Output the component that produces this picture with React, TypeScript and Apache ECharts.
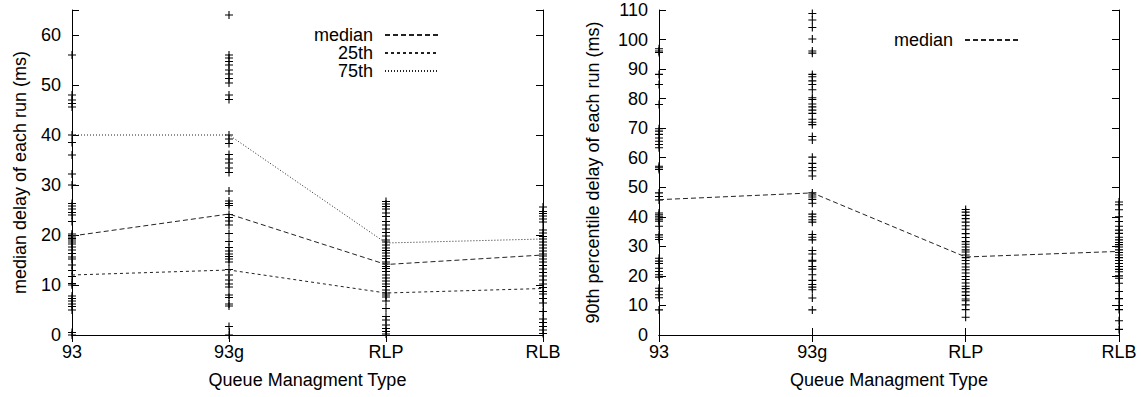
import React, { useEffect, useRef } from "react";
import * as echarts from "echarts";

const categories = ["93", "93g", "RLP", "RLB"];

// left panel: percentile lines
const leftMedian = [19.8, 24.2, 14.1, 16.0];
const left25th = [12.0, 13.0, 8.4, 9.3];
const left75th = [40, 40, 18.4, 19.2];

// left panel: median delay of each run
const leftRuns93 = [56, 48, 47, 46.3, 45.6, 40, 38.5, 36, 32.2, 30, 26.3, 25.8, 25.2, 24.5, 24, 22.7, 20.2, 19.9, 19.6, 19.3, 19, 18.6, 18.2, 17.6, 17, 16.3, 15.6, 15.2, 14, 12.9, 11.7, 10.3, 10, 7.8, 7.3, 6.8, 6.2, 5.7, 5, 0.5, 0];
const leftRuns93g = [64, 56, 55.4, 54.7, 54, 53, 52.2, 51.3, 50.4, 48, 47.1, 40, 39.2, 38.3, 36.1, 35.2, 34.4, 33.4, 32.5, 28.8, 26.8, 26.3, 25.9, 24.1, 23.5, 22.8, 22, 20.3, 18.7, 17.5, 16.8, 16.2, 15.7, 15.2, 14.6, 13.1, 12, 11, 10.2, 9.6, 8, 7.5, 6.2, 5.8, 1.7, 0];
const leftRunsRLP = [26.7, 26.2, 25.7, 25.2, 24.4, 23.7, 22.7, 22, 21.2, 20.5, 19.8, 19, 18.6, 18, 17.4, 16.9, 16.4, 15.8, 15.3, 14.6, 14.2, 13.7, 13.3, 12.7, 12, 11.4, 10.8, 10.2, 9.7, 9, 8.4, 8, 7.6, 6.8, 5.3, 3.7, 3, 2, 1.3, 0.7, 0.2];
const leftRunsRLB = [25.6, 24.7, 24.3, 23.8, 23.2, 22.6, 21, 20.4, 19.7, 19.2, 18.6, 18, 17.4, 16.8, 16.2, 15.8, 15.2, 14.6, 13.9, 13.2, 12.5, 11.8, 11, 10.2, 9.5, 8.7, 8.2, 7.3, 6.4, 4.7, 3.2, 2.5, 1.7, 1, 0.3];

// right panel
const rightMedian = [45.8, 48.1, 26.4, 28.3];
const rightRuns93 = [96.9, 96.1, 95.6, 88.2, 84.8, 78, 69.8, 69, 67.9, 66.7, 65.6, 64.5, 63.4, 57.1, 56.6, 56, 48.1, 46.9, 45.7, 41.3, 40.7, 40.2, 39.6, 39, 38.5, 36.8, 33.9, 33.1, 32.3, 26, 25, 24.2, 22.6, 21.5, 20.4, 19.6, 15.8, 14.8, 13.6, 12.6, 8.5];
const rightRuns93g = [108.8, 106.6, 104.1, 100.2, 96.1, 95.4, 88.2, 87.4, 86, 84.8, 83, 80.3, 79.7, 78.2, 77.2, 76.1, 75, 73, 72, 71.2, 67.2, 66, 60.2, 58.1, 56.7, 55.6, 53.8, 48.1, 47.4, 46.7, 45.9, 44.6, 40.9, 40, 39, 38.2, 34, 33.1, 32.2, 28.6, 27.4, 25.3, 25, 23.2, 22.3, 20.4, 18.5, 17.1, 16.2, 15.3, 12.5, 8.5];
const rightRunsRLP = [42.5, 41.6, 40.5, 39.4, 38.2, 37, 35.8, 34.3, 33, 31.6, 30.7, 29.8, 28.8, 28.1, 27.1, 26.2, 25.2, 24.1, 23, 22.1, 21, 19.8, 18.8, 17.6, 16.5, 15.7, 14.6, 13.4, 12.2, 11.6, 10.2, 8.6, 6];
const rightRunsRLB = [45, 44.1, 42.4, 40, 38.4, 36.8, 35.5, 34.4, 33.1, 32.2, 31.3, 30.6, 29.8, 28.8, 27.9, 27.1, 26.2, 25.2, 24.2, 23.2, 22.2, 21.4, 20, 19.2, 17.5, 14.7, 12.3, 10, 8.6, 4.8, 1.9];

const leftRuns = [leftRuns93, leftRuns93g, leftRunsRLP, leftRunsRLB];
const rightRuns = [rightRuns93, rightRuns93g, rightRunsRLP, rightRunsRLB];

const FONT = "'Liberation Sans', Arial, Helvetica, sans-serif";
const FS = 18;
const INK = "#000";
const PLUS = "path://M0,5H10M5,0V10";

function toPoints(cols: number[][]) {
  const pts: number[][] = [];
  cols.forEach((vals, i) => vals.forEach((v) => pts.push([i, v])));
  return pts;
}

export default function App() {
  const ref = useRef<HTMLDivElement>(null);
  useEffect(() => {
    if (!ref.current) return;
    const chart = echarts.init(ref.current, undefined, { renderer: "svg" });
    const tick = { show: true, inside: true, length: 7, lineStyle: { color: INK, width: 1 } };
    const axisLine = { show: true, lineStyle: { color: INK, width: 1 } };
    const lbl = { color: INK, fontSize: FS, fontFamily: FONT };
    const xBottom = (gi: number) => ({
      type: "category", gridIndex: gi, data: categories, boundaryGap: false, position: "bottom",
      axisLine, axisTick: tick, axisLabel: { ...lbl, margin: 8 },
      splitLine: { show: false },
      name: "Queue Managment Type", nameLocation: "middle", nameGap: 36,
      nameTextStyle: { ...lbl },
    });
    const xTop = (gi: number) => ({
      type: "category", gridIndex: gi, data: categories, boundaryGap: false, position: "top",
      axisLine, axisTick: tick, axisLabel: { show: false }, splitLine: { show: false },
    });
    const yLeft = (gi: number, max: number, name: string, gap: number) => ({
      type: "value", gridIndex: gi, min: 0, max, interval: 10, position: "left",
      axisLine, axisTick: tick, splitLine: { show: false },
      axisLabel: { ...lbl, margin: 11, formatter: (v: number) => (v % 10 === 0 ? String(v) : "") },
      name, nameLocation: "middle", nameGap: gap, nameTextStyle: { ...lbl },
    });
    const yRight = (gi: number, max: number) => ({
      type: "value", gridIndex: gi, min: 0, max, interval: 10, position: "right",
      axisLine, axisTick: tick, axisLabel: { show: false }, splitLine: { show: false },
    });
    const plusSeries = (xi: number, yi: number, data: number[][]) => ({
      type: "scatter", xAxisIndex: xi, yAxisIndex: yi, data, symbol: PLUS, symbolSize: 8,
      itemStyle: { color: INK, borderColor: INK, borderWidth: 1.1, opacity: 1 },
      silent: true, z: 3,
    });
    const lineSeries = (name: string, xi: number, yi: number, data: number[], type: any) => ({
      type: "line", name, xAxisIndex: xi, yAxisIndex: yi, data, symbol: "none",
      lineStyle: { color: "#222", width: 1, type },
      itemStyle: { color: "#222" }, silent: true, z: 4,
    });
    const legendText = { ...lbl, padding: [0, 7, 0, 0] };
    const legendBase = {
      orient: "vertical", align: "right", padding: 0, itemGap: 0, itemWidth: 53, itemHeight: 18,
      textStyle: legendText, selectedMode: false,
      itemStyle: { opacity: 0 },
    };
    chart.setOption({
      animation: false,
      grid: [
        { left: 72, top: 10, width: 471, height: 325 },
        { left: 659, top: 10, width: 460, height: 325 },
      ],
      xAxis: [xBottom(0), xTop(0), xBottom(1), xTop(1)],
      yAxis: [
        yLeft(0, 65, "median delay of each run (ms)", 43),
        yRight(0, 65),
        yLeft(1, 110, "90th percentile delay of each run (ms)", 57),
        yRight(1, 110),
      ],
      legend: [
        { ...legendBase, data: ["median", "25th", "75th"], right: 702, top: 26 },
        { ...legendBase, data: ["median "], right: 122, top: 31, formatter: () => "median" },
      ],
      series: [
        plusSeries(0, 0, toPoints(leftRuns)),
        lineSeries("median", 0, 0, leftMedian, [5, 3]),
        lineSeries("25th", 0, 0, left25th, [3, 3]),
        lineSeries("75th", 0, 0, left75th, [1, 2]),
        plusSeries(2, 2, toPoints(rightRuns)),
        lineSeries("median ", 2, 2, rightMedian, [5, 3]),
      ],
    });
    return () => chart.dispose();
  }, []);
  return (
    <div ref={ref} style={{ position: "absolute", left: 0, top: 0, width: 1141, height: 397, background: "#fff" }} />
  );
}
